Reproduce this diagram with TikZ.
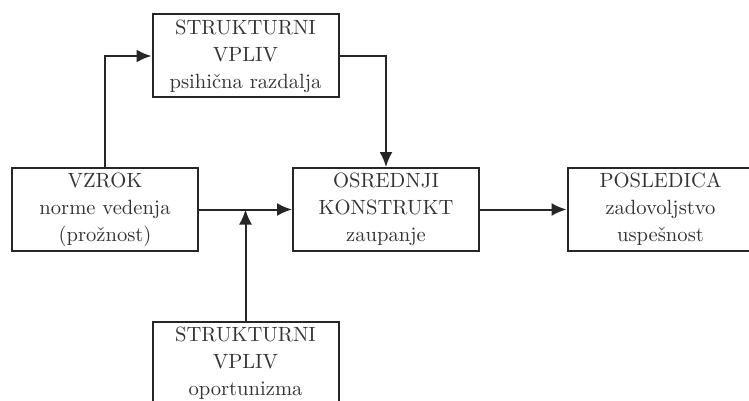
\documentclass[tikz,border=0pt]{standalone}
\usetikzlibrary{arrows.meta}
\tikzset{
  blok/.style={draw=black!85, line width=1pt, minimum width=93pt, minimum height=41.5pt,
    align=center, text=black!80, font=\fontsize{10.3}{13.5}\selectfont, inner sep=0pt},
  puscica/.style={draw=black!85, line width=1pt, -{Latex[length=7.5pt,width=6.5pt]}}
}
\begin{document}
\begin{tikzpicture}[x=0.5pt,y=-0.5pt]
  \useasboundingbox (0,0) rectangle (749,401);
  \node[blok] (vpliva) at (245.5,56) {STRUKTURNI\\VPLIV\\psihična razdalja};
  \node[blok] (vzrok) at (105,209.5) {VZROK\\norme vedenja\\(prožnost)};
  \node[blok] (osrednji) at (386,209.5) {OSREDNJI\\KONSTRUKT\\zaupanje};
  \node[blok] (posledica) at (660.5,209.5) {POSLEDICA\\zadovoljstvo\\uspešnost};
  \node[blok] (vplivb) at (245.5,363.5) {STRUKTURNI\\VPLIV\\oportunizma};
  \coordinate (stik) at (vplivb.north |- vzrok.east);
  \draw[puscica] (vzrok.north) |- (vpliva.west);
  \draw[puscica] (vpliva.east) -| (osrednji.north);
  \draw[puscica] (vzrok.east) -- (osrednji.west);
  \draw[puscica] (vplivb.north) -- (stik);
  \draw[puscica] (osrednji.east) -- (posledica.west);
\end{tikzpicture}
\end{document}
